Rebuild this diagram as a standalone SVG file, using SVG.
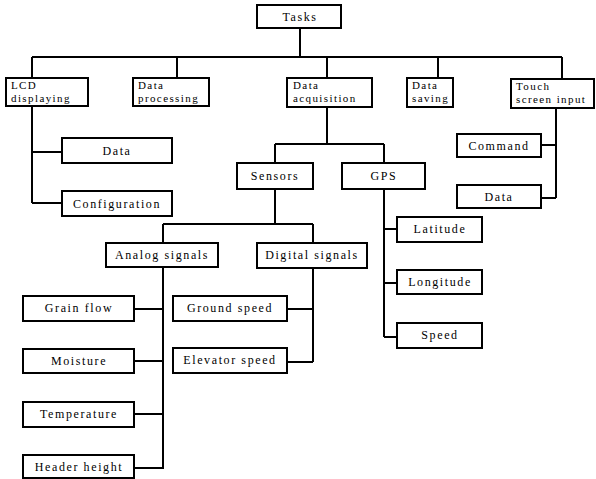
<svg xmlns="http://www.w3.org/2000/svg" width="596" height="479" viewBox="0 0 596 479">
<style>
rect{fill:#fff;stroke:#000;stroke-width:2}
path{fill:none;stroke:#000;stroke-width:2}
text{font-family:"Liberation Serif","Times New Roman",serif;font-size:12px;letter-spacing:1.6px;fill:#000}
.c{text-anchor:middle}
.m{font-size:11px;letter-spacing:1.4px}
</style>
<rect x="0" y="0" width="596" height="479" style="stroke:none"/>
<g id="connectors">
<path d="M300,28V57M32,57H562M32,57V78M177,57V78M327,57V78M438,57V78M562,57V79"/>
<path d="M32,106V203M32,152H62M32,203H62"/>
<path d="M327,107V144M275,144H384M275,144V163M384,144V163"/>
<path d="M275,189V224M163,224H313M163,224V243M313,224V243"/>
<path d="M163,267V469M134,309H163M134,361H163M134,414H163M134,468H163"/>
<path d="M313,268V362M287,309H313M287,362H313"/>
<path d="M384,189V337M384,229H397M384,283H397M384,337H397"/>
<path d="M556,108V198M541,145H556M541,198H556"/>
</g>
<g id="tasks"><rect x="257" y="5" width="84" height="23"/><text class="c" x="300" y="21">Tasks</text></g>
<g id="lcd"><rect x="6" y="78" width="82" height="28"/><text class="m" x="11" y="89">LCD</text><text class="m" x="11" y="102">displaying</text></g>
<g id="processing"><rect x="133" y="78" width="76" height="28"/><text class="m" x="138" y="89">Data</text><text class="m" x="138" y="102">processing</text></g>
<g id="acquisition"><rect x="287" y="78" width="85" height="29"/><text class="m" x="293" y="89">Data</text><text class="m" x="293" y="102">acquisition</text></g>
<g id="saving"><rect x="407" y="78" width="46" height="29"/><text class="m" x="412" y="89">Data</text><text class="m" x="412" y="102">saving</text></g>
<g id="touch"><rect x="511" y="79" width="83" height="29"/><text class="m" x="516" y="90">Touch</text><text class="m" x="516" y="103">screen input</text></g>
<g id="lcd-data"><rect x="62" y="138" width="110" height="25"/><text class="c" x="117" y="155">Data</text></g>
<g id="configuration"><rect x="62" y="191" width="110" height="25"/><text class="c" x="117" y="208">Configuration</text></g>
<g id="sensors"><rect x="237" y="163" width="76" height="26"/><text class="c" x="275" y="180">Sensors</text></g>
<g id="gps"><rect x="342" y="163" width="83" height="26"/><text class="c" x="384" y="180">GPS</text></g>
<g id="command"><rect x="457" y="134" width="84" height="23"/><text class="c" x="499" y="150">Command</text></g>
<g id="touch-data"><rect x="457" y="185" width="84" height="23"/><text class="c" x="499" y="201">Data</text></g>
<g id="analog"><rect x="106" y="243" width="112" height="24"/><text class="c" x="162" y="259">Analog signals</text></g>
<g id="digital"><rect x="257" y="243" width="110" height="25"/><text class="c" x="312" y="259">Digital signals</text></g>
<g id="latitude"><rect x="397" y="217" width="85" height="25"/><text class="c" x="440" y="233">Latitude</text></g>
<g id="longitude"><rect x="397" y="270" width="85" height="24"/><text class="c" x="440" y="286">Longitude</text></g>
<g id="speed"><rect x="397" y="323" width="85" height="25"/><text class="c" x="440" y="339">Speed</text></g>
<g id="grain"><rect x="23" y="296" width="111" height="25"/><text class="c" x="79" y="312">Grain flow</text></g>
<g id="moisture"><rect x="23" y="349" width="111" height="24"/><text class="c" x="79" y="365">Moisture</text></g>
<g id="temperature"><rect x="23" y="402" width="111" height="25"/><text class="c" x="79" y="418">Temperature</text></g>
<g id="header"><rect x="23" y="455" width="111" height="23"/><text class="c" x="79" y="471">Header height</text></g>
<g id="ground"><rect x="173" y="296" width="114" height="25"/><text class="c" x="230" y="312">Ground speed</text></g>
<g id="elevator"><rect x="173" y="348" width="114" height="25"/><text class="c" x="230" y="364">Elevator speed</text></g>
</svg>
